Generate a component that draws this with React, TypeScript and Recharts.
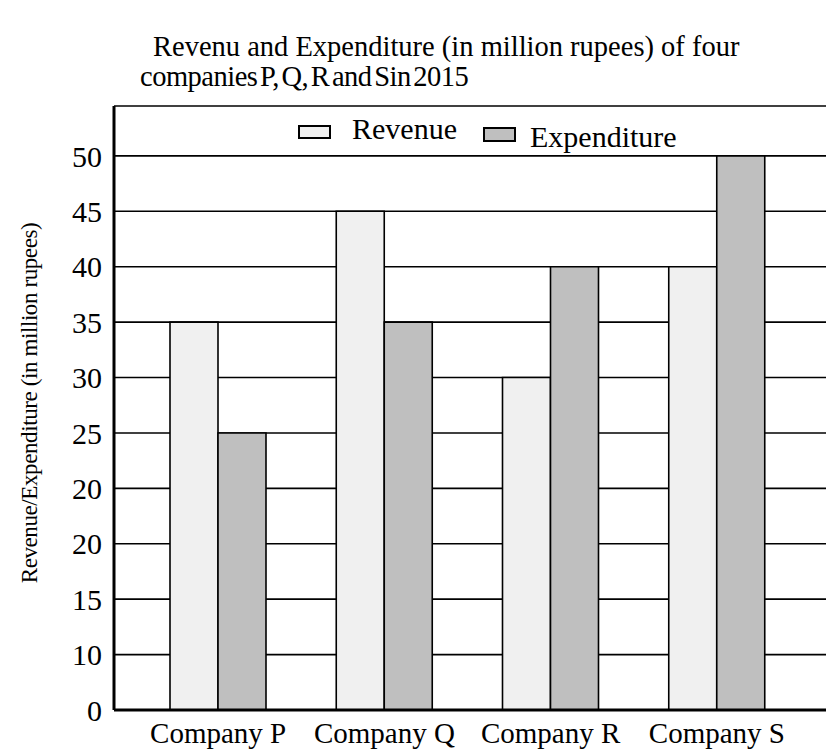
import { BarChart, Bar, XAxis, YAxis, CartesianGrid, Legend } from 'recharts';

const companies = ['Company P', 'Company Q', 'Company R', 'Company S'];
const revenue = [35, 45, 30, 40];
const expenditure = [25, 35, 40, 50];
// tick values and the labels printed beside them (the source prints them this way)
const yTicks = [0, 5, 10, 15, 20, 25, 30, 35, 40, 45, 50];
const yTickLabels = ['0', '10', '15', '20', '20', '25', '30', '35', '40', '45', '50'];

const data = companies.map((name, i) => ({ name, revenue: revenue[i], expenditure: expenditure[i] }));

const FONT = '"Liberation Serif", "Times New Roman", serif';
const REV_FILL = '#f0f0f0';
const EXP_FILL = '#bfbfbf';

const boxStyle = (fill: string, left: number, top: number, h: number): React.CSSProperties => ({
  position: 'absolute', left, top, width: 33, height: h, boxSizing: 'border-box',
  background: fill, border: '2px solid #000',
});
const textStyle = (left: number, top: number): React.CSSProperties => ({
  position: 'absolute', left, top, fontSize: 30, lineHeight: '30px', whiteSpace: 'nowrap',
});

function ChartLegend() {
  return (
    <div style={{ position: 'relative', width: 400, height: 40, fontFamily: FONT, color: '#000' }}>
      <span style={boxStyle(REV_FILL, 0, 7, 14)} />
      <span style={textStyle(54, -4)}>Revenue</span>
      <span style={boxStyle(EXP_FILL, 185, 9, 15)} />
      <span style={textStyle(232, 4)}>Expenditure</span>
    </div>
  );
}

export default function App() {
  return (
    <div style={{ position: 'absolute', left: 0, top: 0, width: 826, height: 755, background: '#fff', fontFamily: FONT }}>
      <div style={{ position: 'absolute', left: 150, top: 32, fontSize: 28.5, lineHeight: '30px', color: '#000', whiteSpace: 'nowrap' }}>
        <div style={{ marginLeft: 3 }}>Revenu and Expenditure (in million rupees) of four</div>
        <div style={{ marginLeft: -10, wordSpacing: -4, letterSpacing: -0.5 }}>companies P, Q, R and Sin 2015</div>
      </div>
      <BarChart width={826} height={755} data={data} barGap={0}
        margin={{ top: 106, right: 0, left: 0, bottom: 0 }}>
        <CartesianGrid vertical={false} stroke="#000" strokeWidth={1.6} />
        <XAxis xAxisId="top" orientation="top" dataKey="name" height={0} tick={false} tickLine={false}
          axisLine={{ stroke: '#000', strokeWidth: 3 }} />
        <XAxis dataKey="name" height={45} padding={{ left: 21, right: 26 }}
          tickLine={false} tickSize={6} tickMargin={6}
          axisLine={{ stroke: '#000', strokeWidth: 3 }}
          tick={{ fill: '#000', fontSize: 29, fontFamily: FONT }} />
        <YAxis width={114} domain={[0, 54.5]} ticks={yTicks} interval={0}
          tickFormatter={(v: number) => yTickLabels[yTicks.indexOf(v)]}
          tickLine={false} tickSize={6} tickMargin={6}
          axisLine={{ stroke: '#000', strokeWidth: 3 }}
          tick={{ fill: '#000', fontSize: 30, fontFamily: FONT }}
          label={(props: any) => {
            const vb = props.viewBox || {};
            const cy = (vb.y ?? 106) + (vb.height ?? 604) / 2 - 5;
            return (
              <text x={29} y={cy} transform={`rotate(-90, 29, ${cy})`} textAnchor="middle"
                dominantBaseline="central" fill="#000" fontSize={23} letterSpacing={-0.4} fontFamily={FONT}>
                Revenue/Expenditure (in million rupees)
              </text>
            );
          }} />
        <Legend layout="vertical" verticalAlign="middle" align="center"
          wrapperStyle={{ top: 118, left: 298, width: 400 }} content={() => <ChartLegend />} />
        <Bar dataKey="revenue" name="Revenue" fill={REV_FILL} stroke="#000" strokeWidth={1.6} barSize={48} isAnimationActive={false} />
        <Bar dataKey="expenditure" name="Expenditure" fill={EXP_FILL} stroke="#000" strokeWidth={1.6} barSize={48} isAnimationActive={false} />
      </BarChart>
    </div>
  );
}
